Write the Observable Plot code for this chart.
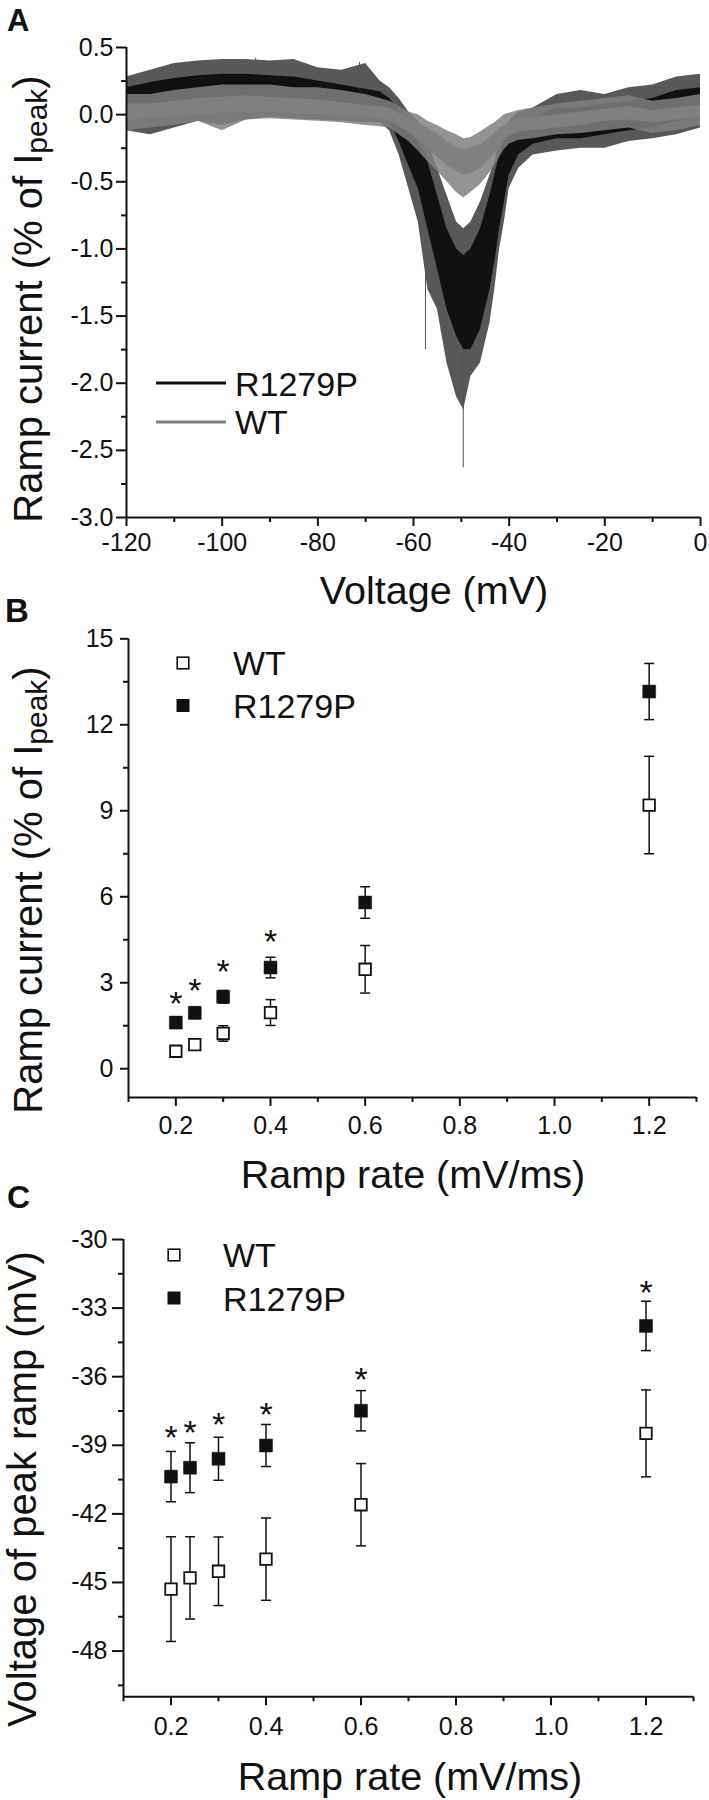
<!DOCTYPE html>
<html><head><meta charset="utf-8">
<script src="https://cdn.jsdelivr.net/npm/d3@7"></script>
<script src="https://cdn.jsdelivr.net/npm/@observablehq/plot@0.6"></script>
<style>
html,body{margin:0;padding:0;background:#fff;}
#wrap{position:relative;width:709px;height:1800px;overflow:hidden;background:#fff;}
#wrap svg{position:absolute;left:0;}
</style></head>
<body><div id="wrap"></div>
<script>
// ---------------- Panel A data (ramp current traces, envelope) ----------------
const voltA = [-120,-115,-110,-105,-100,-95,-90,-85,-80,-75,-70,-67,-65,-63,-61,-59,-57,-55,-53,-51,-49.5,-48,-46,-44,-43,-42,-41,-40,-38,-35,-30,-25,-20,-15,-10,-5,0];
const r1279pMax = [0.28,0.33,0.38,0.40,0.41,0.41,0.40,0.41,0.35,0.33,0.38,0.25,0.20,0.12,0.02,-0.05,-0.20,-0.40,-0.60,-0.80,-0.85,-0.80,-0.65,-0.45,-0.35,-0.20,-0.10,-0.05,0.02,0.05,0.15,0.18,0.15,0.20,0.22,0.28,0.30];
const r1279pHi  = [0.20,0.24,0.27,0.29,0.30,0.30,0.29,0.28,0.25,0.22,0.19,0.17,0.12,0.03,-0.08,-0.20,-0.35,-0.60,-0.85,-1.00,-1.05,-1.00,-0.85,-0.60,-0.45,-0.30,-0.20,-0.12,-0.06,-0.02,0.05,0.05,0.08,0.10,0.12,0.18,0.20];
const r1279pLo  = [0.00,0.03,0.06,0.08,0.09,0.10,0.09,0.08,0.06,0.04,0.02,0.00,-0.05,-0.20,-0.38,-0.55,-0.85,-1.15,-1.45,-1.65,-1.75,-1.75,-1.60,-1.30,-1.10,-0.85,-0.65,-0.45,-0.30,-0.22,-0.18,-0.18,-0.15,-0.12,-0.10,-0.05,-0.02];
const r1279pMin = [-0.12,-0.15,-0.10,-0.05,-0.08,-0.04,-0.02,-0.03,-0.04,-0.05,-0.06,-0.06,-0.12,-0.30,-0.55,-0.80,-1.30,-1.45,-1.85,-2.10,-2.20,-1.95,-1.85,-1.55,-1.30,-1.00,-0.80,-0.55,-0.40,-0.30,-0.27,-0.25,-0.25,-0.20,-0.18,-0.15,-0.10];
const wtMax = [0.15,0.15,0.18,0.20,0.22,0.22,0.22,0.20,0.20,0.18,0.15,0.12,0.10,0.06,0.02,0.00,-0.05,-0.08,-0.12,-0.15,-0.18,-0.17,-0.13,-0.08,-0.06,-0.03,0.00,0.01,0.03,0.05,0.08,0.10,0.12,0.14,0.10,0.12,0.15];
const wtHi  = [0.08,0.08,0.10,0.12,0.13,0.14,0.13,0.12,0.11,0.09,0.07,0.06,0.05,0.01,-0.03,-0.06,-0.10,-0.14,-0.20,-0.24,-0.26,-0.25,-0.22,-0.17,-0.14,-0.10,-0.08,-0.06,-0.04,-0.02,0.00,0.02,0.04,0.06,0.03,0.05,0.07];
const wtLo  = [-0.04,-0.03,-0.02,0.00,0.01,0.02,0.02,0.01,0.00,-0.01,-0.02,-0.03,-0.05,-0.09,-0.13,-0.19,-0.25,-0.32,-0.38,-0.42,-0.45,-0.44,-0.40,-0.33,-0.29,-0.24,-0.19,-0.16,-0.13,-0.12,-0.10,-0.08,-0.05,-0.04,-0.06,-0.04,-0.02];
const wtMin = [-0.12,-0.10,-0.08,-0.05,-0.12,-0.04,-0.03,-0.04,-0.05,-0.06,-0.08,-0.09,-0.10,-0.15,-0.20,-0.27,-0.35,-0.42,-0.50,-0.58,-0.62,-0.58,-0.52,-0.43,-0.38,-0.32,-0.26,-0.22,-0.19,-0.18,-0.15,-0.14,-0.12,-0.10,-0.14,-0.12,-0.08];
// isolated noise spikes seen in the trace
const spikeVolt = [-49.6, -71.3, -93, -103, -57.5];
const spikeFrom = [-1.75, 0.19, 0.30, 0.29, -1.10];
const spikeTo   = [-2.63, 0.39, 0.42, 0.40, -1.75];

// ---------------- Panels B & C data ----------------
const rates = [0.2, 0.24, 0.3, 0.4, 0.6, 1.2];
const bWT     = [0.61, 0.84, 1.23, 1.96, 3.47, 9.2];
const bWTerr  = [0.15, 0.1, 0.27, 0.45, 0.83, 1.7];
const bR      = [1.61, 1.95, 2.51, 3.53, 5.8, 13.16];
const bRerr   = [0.2, 0.2, 0.22, 0.36, 0.55, 0.98];
const bStarX  = [0.2, 0.24, 0.3, 0.4];
const bStarY  = [2.54, 2.98, 3.66, 4.68];
const cWT     = [-45.29, -44.8, -44.51, -43.98, -41.6, -38.48];
const cWTerr  = [2.29, 1.8, 1.5, 1.8, 1.8, 1.9];
const cR      = [-40.37, -39.98, -39.59, -39.01, -37.49, -33.78];
const cRerr   = [1.1, 1.09, 0.94, 0.92, 0.88, 1.08];
const cStarX  = [0.2, 0.24, 0.3, 0.4, 0.6, 1.2];
const cStarY  = [-38.33, -38.13, -37.78, -37.31, -35.79, -31.99];

// tick values
const aXMajor = [-120,-100,-80,-60,-40,-20,0];
const aXMinor = [-110,-90,-70,-50,-30,-10];
const aYMajor = [-3,-2.5,-2,-1.5,-1,-0.5,0,0.5];
const aYMinor = [-2.75,-2.25,-1.75,-1.25,-0.75,-0.25,0.25];
const rateMajor = [0.2,0.4,0.6,0.8,1.0,1.2];
const rateMinor = [0.1,0.3,0.5,0.7,0.9,1.1,1.3];
const bYMajor = [0,3,6,9,12,15];
const bYMinor = [1.5,4.5,7.5,10.5,13.5];
const cYMajor = [-48,-45,-42,-39,-36,-33,-30];
const cYMinor = [-49.5,-46.5,-43.5,-40.5,-37.5,-34.5,-31.5];

const seriesNames = ["WT", "R1279P"];

// ---------------- helpers ----------------
const FONT = '"Liberation Sans", Arial, Helvetica, sans-serif';
const INK = "#111";
const GRAY = "#808080";
const wrap = document.getElementById("wrap");
const baseStyle = {background: "transparent", overflow: "visible", fontFamily: FONT, color: INK};

function place(svg, top) { svg.style.top = top + "px"; wrap.append(svg); return svg; }
function txt(svg, x, y, s, o = {}) {
  return d3.select(svg).append("text").attr("x", x).attr("y", y)
    .attr("font-family", FONT).attr("font-size", o.size || 34)
    .attr("font-weight", o.weight || "normal").attr("fill", INK)
    .attr("text-anchor", o.anchor || "start").text(s);
}
function yTitle(svg, x, y, parts) {
  const t = d3.select(svg).append("text")
    .attr("transform", `translate(${x},${y}) rotate(-90)`)
    .attr("text-anchor", "middle").attr("font-family", FONT)
    .attr("font-size", 40).attr("fill", INK);
  for (const p of parts) {
    const s = t.append("tspan").text(p.t);
    if (p.size) s.attr("font-size", p.size);
    if (p.dy) s.attr("dy", p.dy);
  }
}
function axes(xMajor, xMinor, yMajor, yMinor, xFmt, yFmt, o) {
  return [
    Plot.axisX(xMinor, {tickSize: 5, strokeWidth: 2, fill: "none", label: null}),
    Plot.axisX(xMajor, {tickSize: 9, strokeWidth: 2, tickPadding: o.xPad, fontSize: 25, tickFormat: xFmt, label: null, fill: INK}),
    Plot.axisY(yMinor, {tickSize: 5, strokeWidth: 2, fill: "none", label: null}),
    Plot.axisY(yMajor, {tickSize: o.yTick, strokeWidth: 2, tickPadding: o.yPad, fontSize: 25, tickFormat: yFmt, label: null, fill: INK})
  ];
}
const capSymbol = {draw(ctx, size) { const w = Math.sqrt(size / Math.PI); ctx.moveTo(-w, 0); ctx.lineTo(w, 0); }};

// ---------------- Panel A ----------------
{
  const rows = voltA.map((v, i) => ({v, rMax: r1279pMax[i], rHi: r1279pHi[i], rLo: r1279pLo[i], rMin: r1279pMin[i],
    wMax: wtMax[i], wHi: wtHi[i], wLo: wtLo[i], wMin: wtMin[i]}));
  const spikes = spikeVolt.map((v, i) => ({v, a: spikeFrom[i], b: spikeTo[i]}));
  const svg = Plot.plot({
    width: 709, height: 620, marginLeft: 126, marginRight: 9, marginTop: 47, marginBottom: 103,
    style: baseStyle,
    x: {domain: [-120, 0]}, y: {domain: [-3, 0.5]},
    marks: [
      ...axes(aXMajor, aXMinor, aYMajor, aYMinor, d => d.toFixed(0), d => d.toFixed(1), {xPad: 7, yTick: 10, yPad: 3}),
      Plot.areaY(rows, {x: "v", y1: "rMin", y2: "rMax", fill: INK, fillOpacity: 0.7}),
      Plot.areaY(rows, {x: "v", y1: "rLo", y2: "rHi", fill: INK}),
      Plot.ruleX(spikes, {x: "v", y1: "a", y2: "b", stroke: "#555", strokeWidth: 1}),
      Plot.areaY(rows, {x: "v", y1: "wMin", y2: "wMax", fill: GRAY, fillOpacity: 0.85}),
      Plot.areaY(rows, {x: "v", y1: "wLo", y2: "wHi", fill: GRAY}),
      Plot.ruleX([-120], {strokeWidth: 2, stroke: INK}),
      Plot.ruleY([-3], {strokeWidth: 2, stroke: INK})
    ]
  });
  place(svg, 0);
  txt(svg, 7, 31, "A", {size: 31, weight: "bold"});
  txt(svg, 434, 604, "Voltage (mV)", {size: 39.5, anchor: "middle"});
  yTitle(svg, 42, 299, [{t: "Ramp current (% of I"}, {t: "peak", size: 30, dy: 5}, {t: ")", dy: -5}]);
  const g = d3.select(svg);
  g.append("line").attr("x1", 156).attr("x2", 226).attr("y1", 383).attr("y2", 383).attr("stroke", INK).attr("stroke-width", 3);
  g.append("line").attr("x1", 156).attr("x2", 226).attr("y1", 422).attr("y2", 422).attr("stroke", GRAY).attr("stroke-width", 3);
  txt(svg, 235, 396, seriesNames[1], {size: 34});
  txt(svg, 235, 434, seriesNames[0], {size: 34});
}

// ---------------- Panels B & C ----------------
function scatter(cfg) {
  const wt = rates.map((x, i) => ({x, y: cfg.wt[i], e: cfg.wtErr[i]}));
  const r = rates.map((x, i) => ({x, y: cfg.r[i], e: cfg.rErr[i]}));
  const all = wt.concat(r);
  const stars = cfg.starX.map((x, i) => ({x, y: cfg.starY[i]}));
  const svg = Plot.plot({
    width: 709, height: cfg.height, marginLeft: cfg.ml, marginRight: cfg.mr, marginTop: cfg.mt, marginBottom: cfg.mb,
    style: baseStyle,
    x: {domain: [0.1, 1.3]}, y: {domain: cfg.yDomain},
    marks: [
      ...axes(rateMajor, rateMinor, cfg.yMajor, cfg.yMinor, d => d.toFixed(1), d => d.toFixed(0), {xPad: cfg.xPad, yTick: cfg.yTick, yPad: cfg.yPad}),
      Plot.ruleX(all, {x: "x", y1: d => d.y - d.e, y2: d => d.y + d.e, stroke: INK, strokeWidth: 1.5}),
      Plot.dot(all, {x: "x", y: d => d.y + d.e, symbol: capSymbol, r: 5, stroke: INK, strokeWidth: 1.5, fill: "none"}),
      Plot.dot(all, {x: "x", y: d => d.y - d.e, symbol: capSymbol, r: 5, stroke: INK, strokeWidth: 1.5, fill: "none"}),
      Plot.dot(wt, {x: "x", y: "y", symbol: "square", r: 6.5, fill: "white", stroke: INK, strokeWidth: 1.8}),
      Plot.dot(r, {x: "x", y: "y", symbol: "square", r: 7.3, fill: INK, stroke: INK, strokeWidth: 0.5}),
      Plot.text(stars, {x: "x", y: "y", text: () => "*", fontSize: 34, dy: 8, fill: INK}),
      Plot.ruleX([0.1], {strokeWidth: 2, stroke: INK}),
      Plot.ruleY([cfg.yDomain[0]], {strokeWidth: 2, stroke: INK})
    ]
  });
  place(svg, cfg.top);
  return svg;
}
function legendSquares(svg, x, y1, y2, tx) {
  const g = d3.select(svg);
  g.append("rect").attr("x", x - 5.8).attr("y", y1 - 5.8).attr("width", 11.6).attr("height", 11.6).attr("fill", "white").attr("stroke", INK).attr("stroke-width", 1.6);
  g.append("rect").attr("x", x - 6.5).attr("y", y2 - 6.5).attr("width", 13).attr("height", 13).attr("fill", INK);
  txt(svg, tx, y1 + 12, seriesNames[0], {size: 34});
  txt(svg, tx, y2 + 12.5, seriesNames[1], {size: 34});
}
{
  const top = 590;
  const svg = scatter({top, height: 620, ml: 128, mr: 13, mt: 48.3, mb: 113.1, yDomain: [-1, 15],
    yMajor: bYMajor, yMinor: bYMinor, wt: bWT, wtErr: bWTerr, r: bR, rErr: bRerr, starX: bStarX, starY: bStarY,
    xPad: 10, yTick: 8, yPad: 7});
  txt(svg, 5, 622 - top, "B", {size: 33, weight: "bold"});
  txt(svg, 413, 1188 - top, "Ramp rate (mV/ms)", {size: 39.5, anchor: "middle"});
  yTitle(svg, 42, 890 - top, [{t: "Ramp current (% of I"}, {t: "peak", size: 30, dy: 5}, {t: ")", dy: -5}]);
  legendSquares(svg, 183, 663 - top, 705.5 - top, 233);
}
{
  const top = 1170;
  const svg = scatter({top, height: 630, ml: 123, mr: 16, mt: 69, mb: 103.7, yDomain: [-50, -30],
    yMajor: cYMajor, yMinor: cYMinor, wt: cWT, wtErr: cWTerr, r: cR, rErr: cRerr, starX: cStarX, starY: cStarY,
    xPad: 11, yTick: 11, yPad: 5});
  txt(svg, 7, 1208 - top, "C", {size: 32, weight: "bold"});
  txt(svg, 410, 1790 - top, "Ramp rate (mV/ms)", {size: 39.5, anchor: "middle"});
  yTitle(svg, 36, 1489 - top, [{t: "Voltage of peak ramp (mV)"}]);
  legendSquares(svg, 174, 1255 - top, 1298 - top, 223);
}
</script>
</body></html>
